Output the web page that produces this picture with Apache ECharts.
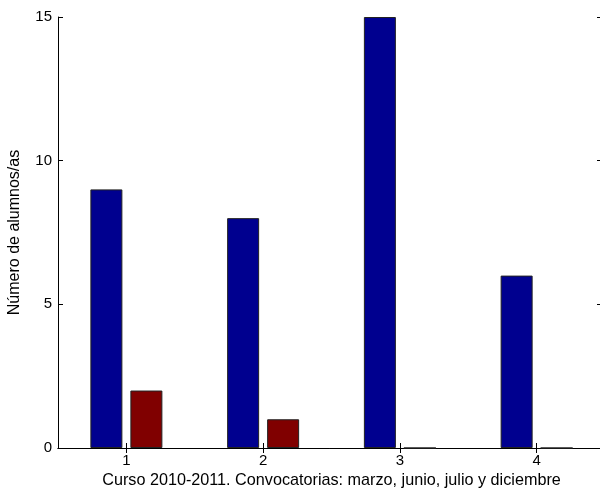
<!DOCTYPE html>
<html><head><meta charset="utf-8">
<script src="https://cdn.jsdelivr.net/npm/echarts@6/dist/echarts.min.js"></script>
<style>html,body{margin:0;padding:0;background:#fff}#c{width:600px;height:490px}</style>
</head><body><div id="c"></div>
<script>
const categories = ['1', '2', '3', '4'];
const series1 = [9, 8, 15, 6];
const series2 = [2, 1, 0, 0];
const yTicks = [0, 5, 10, 15];
const xTitle = 'Curso 2010-2011. Convocatorias: marzo, junio, julio y diciembre';
const yTitle = 'Número de alumnos/as';

const font = 'Liberation Sans, Arial, Helvetica, sans-serif';
const chart = echarts.init(document.getElementById('c'), null, {renderer: 'canvas'});
const axisLine = {show: true, lineStyle: {color: '#000', width: 1}};
const tick = {show: true, inside: true, length: 5, lineStyle: {color: '#000', width: 1}};
chart.setOption({
  animation: false,
  backgroundColor: '#fff',
  grid: {left: 58, top: 17, width: 547, height: 431, containLabel: false, outerBoundsMode: 'none'},
  xAxis: [
    {type: 'category', data: categories, position: 'bottom',
     axisLine: axisLine, axisTick: Object.assign({alignWithLabel: true}, tick),
     axisLabel: {color: '#000', fontFamily: font, fontSize: 15, margin: 5},
     name: xTitle, nameLocation: 'middle', nameGap: 24,
     nameTextStyle: {color: '#000', fontFamily: font, fontSize: 16.2},
     splitLine: {show: false}},
    {type: 'category', data: categories, position: 'top',
     axisLine: axisLine, axisTick: Object.assign({alignWithLabel: true}, tick),
     axisLabel: {show: false}, splitLine: {show: false}}
  ],
  yAxis: [
    {type: 'value', min: yTicks[0], max: yTicks[yTicks.length - 1], interval: 5, position: 'left',
     axisLine: axisLine, axisTick: tick,
     axisLabel: {color: '#000', fontFamily: font, fontSize: 15, margin: 6},
     name: yTitle, nameLocation: 'middle', nameGap: 35, nameRotate: 90,
     nameTextStyle: {color: '#000', fontFamily: font, fontSize: 16},
     splitLine: {show: false}},
    {type: 'value', min: yTicks[0], max: yTicks[yTicks.length - 1], interval: 5, position: 'right',
     axisLine: {show: false}, axisTick: {show: true, inside: true, length: 8, lineStyle: {color: '#000', width: 1}},
     axisLabel: {show: false}, splitLine: {show: false}}
  ],
  series: [
    {type: 'bar', data: series1, barWidth: 32, barGap: '25%',
     itemStyle: {color: '#00008F', borderColor: '#222', borderWidth: 1}},
    {type: 'bar', data: series2, barWidth: 32, barGap: '25%',
     itemStyle: {color: '#800000', borderColor: '#222', borderWidth: 1}}
  ]
});
</script></body></html>
